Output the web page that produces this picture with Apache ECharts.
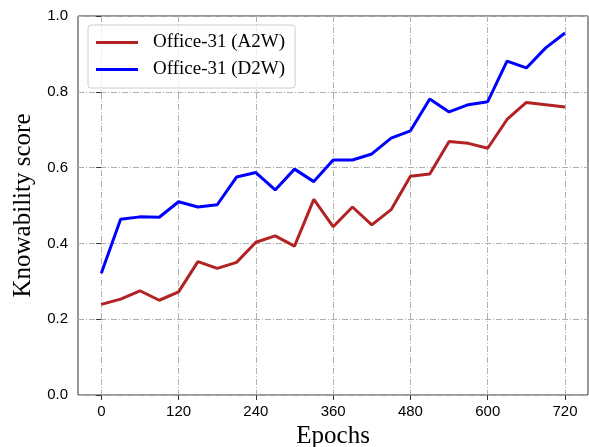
<!DOCTYPE html>
<html>
<head>
<meta charset="utf-8">
<script src="https://cdn.jsdelivr.net/npm/echarts@6/dist/echarts.min.js"></script>
<style>
html,body{margin:0;padding:0;background:#fff;}
#chart{width:589px;height:447px;}
</style>
</head>
<body>
<div id="chart"></div>
<script>
const epochs = [0, 30, 60, 90, 120, 150, 180, 210, 240, 270, 300, 330, 360, 390, 420, 450, 480, 510, 540, 570, 600, 630, 660, 690, 720];
const a2w = [0.239, 0.253, 0.275, 0.250, 0.272, 0.352, 0.334, 0.350, 0.403, 0.420, 0.393, 0.516, 0.444, 0.496, 0.449, 0.489, 0.577, 0.583, 0.669, 0.664, 0.651, 0.727, 0.772, 0.766, 0.760];
const d2w = [0.321, 0.464, 0.470, 0.469, 0.510, 0.496, 0.502, 0.575, 0.587, 0.541, 0.596, 0.563, 0.620, 0.620, 0.636, 0.678, 0.697, 0.781, 0.747, 0.766, 0.774, 0.881, 0.863, 0.916, 0.955];
const seriesNames = ['Office-31 (A2W)', 'Office-31 (D2W)'];
const seriesColors = ['#b22222', '#0000ff'];

const serif = 'Liberation Serif, Times New Roman, serif';
const sans = 'Liberation Sans, Arial, sans-serif';
const gridLine = { show: true, lineStyle: { color: '#b0b0b0', width: 1, type: [6, 2, 1, 2] } };

const chart = echarts.init(document.getElementById('chart'), null, { renderer: 'canvas' });
chart.setOption({
  animation: false,
  backgroundColor: '#fff',
  grid: [
    { left: 78, right: 1, top: 16, bottom: 52, containLabel: false, outerBoundsMode: 'none',
      show: true, borderColor: '#333', borderWidth: 1, backgroundColor: 'transparent' },
    { left: 101.3, right: 24, top: 16, bottom: 52, containLabel: false, outerBoundsMode: 'none' }
  ],
  xAxis: [
    { type: 'value', gridIndex: 0, min: -36, max: 756, axisLine: { show: false }, axisTick: { show: false }, axisLabel: { show: false }, splitLine: { show: false } },
    { type: 'value', gridIndex: 1, min: 0, max: 720, interval: 120,
      axisLine: { show: false },
      axisTick: { show: true, length: 5, lineStyle: { color: '#333' } },
      axisLabel: { color: '#000', fontFamily: sans, fontSize: 15, margin: 9 },
      splitLine: gridLine,
      name: 'Epochs', nameLocation: 'middle', nameGap: 28,
      nameTextStyle: { fontFamily: serif, fontSize: 25, color: '#000' } }
  ],
  yAxis: [
    { type: 'value', gridIndex: 0, min: 0, max: 1, interval: 0.2,
      axisLine: { show: false },
      axisTick: { show: true, length: 5, lineStyle: { color: '#333' } },
      axisLabel: { color: '#000', fontFamily: sans, fontSize: 15, margin: 10, formatter: v => v.toFixed(1) },
      splitLine: gridLine,
      name: 'Knowability score', nameLocation: 'middle', nameGap: 38,
      nameTextStyle: { fontFamily: serif, fontSize: 25, color: '#000' } },
    { type: 'value', gridIndex: 1, min: 0, max: 1, show: false }
  ],
  legend: {
    orient: 'vertical', left: 88, top: 25,
    padding: [8, 10, 9, 8],
    itemWidth: 42, itemHeight: 3, itemGap: 8,
    icon: 'rect',
    borderColor: '#cccccc', borderWidth: 1, borderRadius: 3,
    backgroundColor: 'rgba(255,255,255,0.8)',
    textStyle: { fontFamily: serif, fontSize: 19, color: '#000', padding: [0, 0, 0, 10] },
    data: seriesNames
  },
  series: [
    { name: seriesNames[0], type: 'line', xAxisIndex: 1, yAxisIndex: 1, showSymbol: false, symbol: 'none',
      data: epochs.map((e, i) => [e, a2w[i]]),
      lineStyle: { color: seriesColors[0], width: 3 }, itemStyle: { color: seriesColors[0] } },
    { name: seriesNames[1], type: 'line', xAxisIndex: 1, yAxisIndex: 1, showSymbol: false, symbol: 'none',
      data: epochs.map((e, i) => [e, d2w[i]]),
      lineStyle: { color: seriesColors[1], width: 3 }, itemStyle: { color: seriesColors[1] } }
  ]
});
</script>
</body>
</html>
